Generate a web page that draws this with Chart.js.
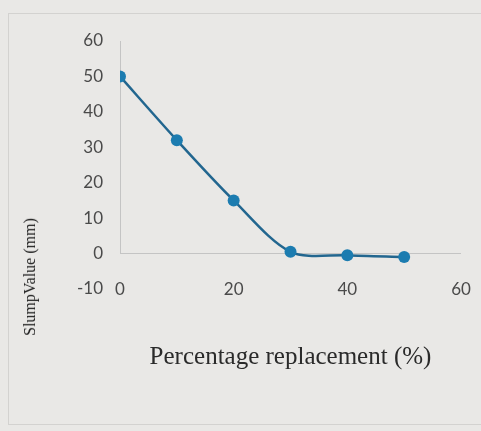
<!DOCTYPE html>
<html>
<head>
<meta charset="utf-8">
<script src="https://cdn.jsdelivr.net/npm/chart.js@4/dist/chart.umd.min.js"></script>
<style>
  html, body { margin: 0; padding: 0; background: #e9e8e6; }
  #wrap { position: relative; width: 481px; height: 431px; overflow: hidden; }
  #frame { position: absolute; left: 8px; top: 13px; width: 500px; height: 410px;
           border-left: 1px solid #d3d2d0; border-top: 1px solid #d3d2d0; border-bottom: 1px solid #d3d2d0; }
  #ytitle { position: absolute; left: 30px; top: 277px; transform: translate(-50%, -50%) rotate(-90deg);
            font-family: "Liberation Serif", serif; font-size: 16px; color: #1e1e1e; white-space: nowrap; }
  canvas { position: absolute; left: 0; top: 0; }
</style>
</head>
<body>
<div id="wrap">
  <div id="frame"></div>
  <canvas id="chart" width="481" height="431"></canvas>
  <div id="ytitle">SlumpValue (mm)</div>
</div>
<script>
// valeurs
const replacement = [0, 10, 20, 30, 40, 50];
const slump = [50, 32, 15, 0.5, -0.5, -1];
const xTicks = [0, 20, 40, 60];
const yTicks = [-10, 0, 10, 20, 30, 40, 50, 60];

const ctx = document.getElementById('chart').getContext('2d');

// petite ligne verticale de l'axe, de 0 jusqu'a 60 seulement
const axisLine = {
  id: 'axisLine',
  beforeDatasetsDraw(chart) {
    const { ctx, scales: { x, y } } = chart;
    ctx.save();
    ctx.strokeStyle = '#c4c4c4';
    ctx.lineWidth = 1;
    ctx.beginPath();
    ctx.moveTo(x.getPixelForValue(0) + 0.5, y.getPixelForValue(60));
    ctx.lineTo(x.getPixelForValue(0) + 0.5, y.getPixelForValue(0));
    ctx.stroke();
    ctx.restore();
  }
};

new Chart(ctx, {
  type: 'line',
  data: {
    datasets: [{
      data: replacement.map((v, i) => ({ x: v, y: slump[i] })),
      borderColor: '#22668f',
      backgroundColor: '#1c7cb0',
      borderWidth: 2.5,
      pointRadius: 6,
      pointBorderWidth: 0,
      tension: 0.3,
    }],
  },
  options: {
    responsive: false,
    animation: false,
    layout: { padding: { top: 41, right: 20, left: 0, bottom: 0 } },
    plugins: { legend: { display: false }, tooltip: { enabled: false } },
    scales: {
      x: {
        type: 'linear',
        min: 0,
        max: 60,
        afterBuildTicks: (s) => { s.ticks = xTicks.map(v => ({ value: v })); },
        afterFit: (s) => { s.height = 142; },
        grid: { display: false, drawTicks: false },
        border: { display: false },
        // mirror pour pouvoir remonter les etiquettes au niveau de -10
        ticks: { mirror: true, padding: -11, color: '#4a4a4a', font: { family: 'Lato', size: 17 } },
        title: {
          display: true,
          text: 'Percentage replacement (%)',
          color: '#2a2a2a',
          font: { family: 'Liberation Serif', size: 25 },
          padding: { bottom: 59 },
        },
      },
      y: {
        min: -10,
        max: 60,
        afterBuildTicks: (s) => { s.ticks = yTicks.map(v => ({ value: v })); },
        afterFit: (s) => { s.width = 120; },
        border: { display: false },
        grid: {
          drawTicks: false,
          color: (c) => (c.tick && c.tick.value === 0 ? '#c4c4c4' : 'rgba(0,0,0,0)'),
        },
        ticks: { padding: 17, color: '#4a4a4a', font: { family: 'Lato', size: 17 } },
      },
    },
  },
  plugins: [axisLine],
});
</script>
</body>
</html>
